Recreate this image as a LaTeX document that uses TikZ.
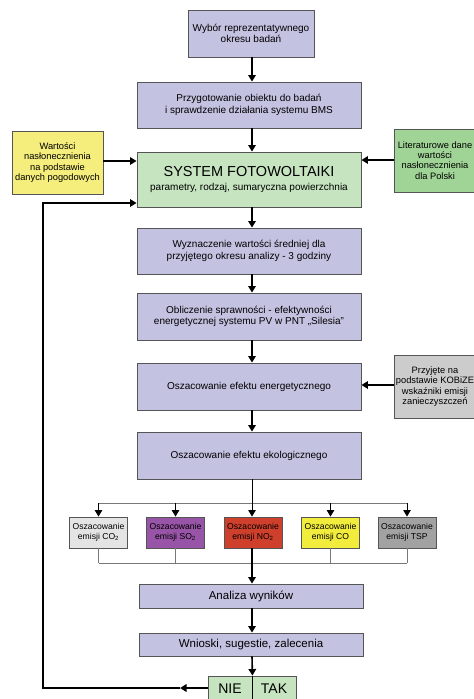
\documentclass[tikz,border=0pt]{standalone}
\usepackage{fontspec}
\setmainfont{Liberation Sans}
\usetikzlibrary{arrows.meta}
\definecolor{lav}{RGB}{196,194,225}
\definecolor{lgreen}{RGB}{198,228,192}
\definecolor{dgreen}{RGB}{160,212,150}
\definecolor{yelbox}{RGB}{245,238,125}
\definecolor{graybox}{RGB}{204,204,204}
\definecolor{cotwo}{RGB}{228,228,228}
\definecolor{sotwo}{RGB}{152,84,166}
\definecolor{notwo}{RGB}{206,64,44}
\definecolor{cobox}{RGB}{242,236,60}
\definecolor{tspbox}{RGB}{162,162,162}
\definecolor{bord}{RGB}{85,85,85}
\definecolor{busgray}{RGB}{120,120,120}
\tikzset{
  box/.style={draw=bord, line width=0.9pt, align=center, inner sep=1pt},
  mainbox/.style={box, fill=lav, minimum width=224pt, minimum height=47pt,
    font=\fontsize{10}{11.7}\selectfont},
  sidebox/.style={box, minimum width=82pt, minimum height=63pt,
    font=\fontsize{9.3}{10.3}\selectfont},
  embox/.style={box, minimum width=58pt, minimum height=31pt,
    font=\fontsize{8.6}{10}\selectfont},
  flow/.style={line width=1.6pt, -{Triangle[length=6.5pt,width=7.5pt]}},
  thinflow/.style={line width=0.9pt, -{Triangle[length=6.5pt,width=7.5pt]}},
  busline/.style={line width=0.8pt, draw=busgray},
}
\begin{document}
\begin{tikzpicture}[x=1pt,y=-1pt]
\useasboundingbox (0,0) rectangle (474,699);
\fill[white] (0,0) rectangle (474,699);

% main column
\node[mainbox, minimum width=126pt] (b1) at (251,33.5) {Wybór reprezentatywnego\\okresu badań};
\node[mainbox, minimum height=46pt] (b2) at (249,105) {Przygotowanie obiektu do badań\\i sprawdzenie działania systemu BMS};
\node[box, fill=lgreen, minimum width=224pt, minimum height=55pt] (sys) at (249,179.5)
  {{\fontsize{14.5}{16}\selectfont SYSTEM FOTOWOLTAIKI}\\[2pt]{\fontsize{10}{12}\selectfont parametry, rodzaj, sumaryczna powierzchnia}};
\node[sidebox, fill=yelbox, minimum width=91pt] (yel) at (57.5,162.5) {Wartości\\nasłonecznienia\\na podstawie\\danych pogodowych};
\node[sidebox, fill=dgreen] (lit) at (435,160.5) {Literaturowe dane\\wartości\\nasłonecznienia\\dla Polski};
\node[mainbox, minimum height=46pt] (b3) at (249,251) {Wyznaczenie wartości średniej dla\\przyjętego okresu analizy - 3 godziny};
\node[mainbox] (b4) at (249,316.5) {Obliczenie sprawności - efektywności\\energetycznej systemu PV w PNT „Silesia''};
\node[mainbox] (b5) at (249,386.5) {Oszacowanie efektu energetycznego};
\node[sidebox, fill=graybox] (kob) at (435,386.5) {Przyjęte na\\podstawie KOBiZE\\wskaźniki emisji\\zanieczyszczeń};
\node[mainbox] (b6) at (249,455.5) {Oszacowanie efektu ekologicznego};

% emission boxes
\node[embox, fill=cotwo] (e1) at (98.5,532.5) {Oszacowanie\\emisji CO\textsubscript{2}};
\node[embox, fill=sotwo] (e2) at (175.5,532.5) {Oszacowanie\\emisji SO\textsubscript{2}};
\node[embox, fill=notwo] (e3) at (253,532.5) {Oszacowanie\\emisji NO\textsubscript{2}};
\node[embox, fill=cobox] (e4) at (330.5,532.5) {Oszacowanie\\emisji CO};
\node[embox, fill=tspbox] (e5) at (407,532.5) {Oszacowanie\\emisji TSP};

\node[mainbox, minimum height=24pt, font=\fontsize{11.5}{13}\selectfont] (ana) at (251,596) {Analiza wyników};
\node[mainbox, minimum height=23pt, font=\fontsize{11.5}{13}\selectfont] (wn) at (251,644.5) {Wnioski, sugestie, zalecenia};

\node[box, fill=lgreen, minimum width=44pt, minimum height=26pt, font=\fontsize{14}{16}\selectfont] (nie) at (230,689) {NIE};
\node[box, fill=lgreen, minimum width=44pt, minimum height=26pt, font=\fontsize{14}{16}\selectfont] (tak) at (274,689) {TAK};
\draw[line width=1.4pt] (nie.north east) -- (nie.south east);

% helper coordinates
\coordinate (ax) at (252,0);
\coordinate (bus) at (0,503);
\coordinate (col) at (0,563);
\coordinate (mid) at (180,688);
\coordinate (fb) at (43,688);
\coordinate (fbt) at (43,203);

% main arrows
\draw[flow] (b1.south -| ax) -- (b2.north -| ax);
\draw[flow] (b2.south -| ax) -- (sys.north -| ax);
\draw[flow] (sys.south -| ax) -- (b3.north -| ax);
\draw[flow] (b3.south -| ax) -- (b4.north -| ax);
\draw[flow] (b4.south -| ax) -- (b5.north -| ax);
\draw[flow] (b5.south -| ax) -- (b6.north -| ax);
\draw[flow] (yel.east |- 0,161) -- (sys.west |- 0,161);
\draw[flow] (lit.west |- 0,160) -- (sys.east |- 0,160);
\draw[flow] (kob.west |- 0,385) -- (b5.east |- 0,385);

% distribution bus
\draw[busline] (e1.north |- bus) -- (e5.north |- bus);
\draw[thinflow] (b6.south -| ax) -- (e3.north -| ax);
\foreach \e in {e1,e2,e4,e5}{
  \draw[thinflow] (\e.north |- bus) -- (\e.north);
}

% collector
\foreach \e in {e1,e2,e4,e5}{
  \draw[busline] (\e.south) -- (\e.south |- col);
}
\draw[busline] (e1.south |- col) -- (e5.south |- col);
\draw[flow] (e3.south -| ax) -- (ana.north -| ax);
\draw[flow] (ana.south -| ax) -- (wn.north -| ax);
\draw[flow] (wn.south -| ax) -- (nie.north east);

% feedback loop
\draw[flow] (nie.west |- mid) -- (mid);
\draw[line width=1.6pt] (mid) -- (fb) -- (fbt) -- ([xshift=-8pt]sys.west |- fbt);
\draw[flow] ([xshift=-9pt]sys.west |- fbt) -- (sys.west |- fbt);
\end{tikzpicture}
\end{document}
